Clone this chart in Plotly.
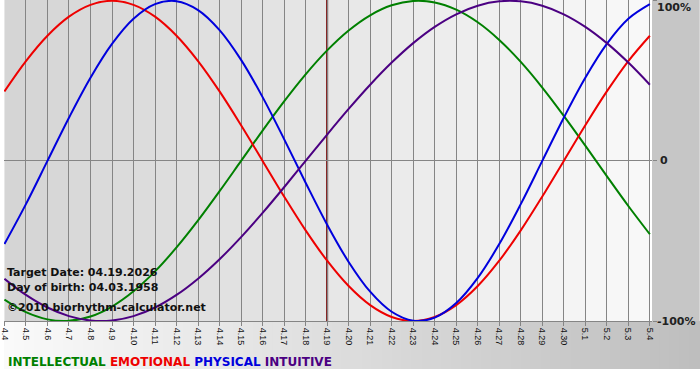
import plotly.graph_objects as go

DATES = ["4.4", "4.5", "4.6", "4.7", "4.8", "4.9", "4.10", "4.11", "4.12", "4.13",
         "4.14", "4.15", "4.16", "4.17", "4.18", "4.19", "4.20", "4.21", "4.22", "4.23",
         "4.24", "4.25", "4.26", "4.27", "4.28", "4.29", "4.30", "5.1", "5.2", "5.3", "5.4"]

PHYSICAL = [-51.96, -26.98, 0.0, 26.98, 51.96, 73.08, 88.79, 97.91, 99.77, 94.23,
            81.70, 63.10, 39.84, 13.62, -13.62, -39.84, -63.10, -81.70, -94.23, -99.77,
            -97.91, -88.79, -73.08, -51.96, -26.98, 0.0, 26.98, 51.96, 73.08, 88.79, 97.91]

EMOTIONAL = [43.39, 62.35, 78.18, 90.10, 97.49, 100.0, 97.49, 90.10, 78.18, 62.35,
             43.39, 22.25, 0.0, -22.25, -43.39, -62.35, -78.18, -90.10, -97.49, -100.0,
             -97.49, -90.10, -78.18, -62.35, -43.39, -22.25, 0.0, 22.25, 43.39, 62.35, 78.18]

INTELLECTUAL = [-86.60, -94.50, -98.98, -99.89, -97.18, -90.96, -81.46, -69.01, -54.06, -37.17,
                -18.93, 0.0, 18.93, 37.17, 54.06, 69.01, 81.46, 90.96, 97.18, 99.89,
                98.98, 94.50, 86.60, 75.57, 61.82, 45.82, 28.17, 9.51, -9.51, -28.17, -45.82]

INTUITIVE = [-73.57, -83.72, -91.58, -96.94, -99.66, -99.66, -96.94, -91.58, -83.72, -73.57,
             -61.42, -47.59, -32.47, -16.46, 0.0, 16.46, 32.47, 47.59, 61.42, 73.57,
             83.72, 91.58, 96.94, 99.66, 99.66, 96.94, 91.58, 83.72, 73.57, 61.42, 47.59]

TARGET = "4.19"
TARGET_TEXT = "Target Date: 04.19.2026"
BIRTH_TEXT = "Day of birth: 04.03.1958"
COPY_TEXT = "\u00a92010 biorhythm-calculator.net"
Y_LABELS = ["100%", "0", "-100%"]
Y_VALUES = [100, 0, -100]

SERIES = [
    ("INTELLECTUAL", INTELLECTUAL, "#008000"),
    ("EMOTIONAL", EMOTIONAL, "#ee0000"),
    ("PHYSICAL", PHYSICAL, "#0000dd"),
    ("INTUITIVE", INTUITIVE, "#4b0082"),
]

W, H = 700, 380
ML, MR, MT, MB = 0, 48, 0, 59
PW = W - ML - MR
PH = H - MT - MB

x = list(range(len(DATES)))
fig = go.Figure()

for name, vals, col in SERIES:
    fig.add_trace(go.Scatter(x=x, y=vals, mode="lines", name=name,
                             line=dict(color=col, width=2, shape="spline", smoothing=1.0),
                             hoverinfo="skip", showlegend=False))

shapes = []
# column background gradient (one band per day)
n = len(DATES) - 1
for i in range(n):
    v = int(round(213 + (248 - 213) * i / (n - 1)))
    shapes.append(dict(type="rect", xref="x", yref="paper", x0=i, x1=i + 1, y0=0, y1=1,
                       fillcolor=f"rgb({v},{v},{v})", line=dict(width=0), layer="below"))
# right margin grey
xr = W / PW
shapes.append(dict(type="rect", xref="paper", yref="paper", x0=1, x1=xr, y0=0, y1=1,
                   fillcolor="#c6c6c6", line=dict(width=0), layer="below"))
# bottom gradient band
band_h = 48 / PH
steps = 70
for i in range(steps):
    v = int(round(250 - (250 - 190) * i / (steps - 1)))
    shapes.append(dict(type="rect", xref="paper", yref="paper",
                       x0=xr * i / steps, x1=xr * (i + 1) / steps + 0.002,
                       y0=-band_h, y1=0,
                       fillcolor=f"rgb({v},{v},{v})", line=dict(width=0), layer="below"))
# target date line
ti = DATES.index(TARGET)
shapes.append(dict(type="line", xref="x", yref="paper", x0=ti, x1=ti, y0=0, y1=1,
                   line=dict(color="#780808", width=2), layer="between"))

annotations = []
for lab, val in zip(Y_LABELS, Y_VALUES):
    yy = min(val, 96)
    annotations.append(dict(text=f"<b>{lab}</b>", x=1.0, xref="paper", xshift=3 if lab != "0" else 6,
                            y=yy, yref="y", xanchor="left", yanchor="middle", showarrow=False,
                            font=dict(family="DejaVu Sans", size=11, color="#222222")))

for txt, py in [(TARGET_TEXT, 272), (BIRTH_TEXT, 287), (COPY_TEXT, 307)]:
    annotations.append(dict(text=f"<b>{txt}</b>", x=0.0, xref="paper", xshift=1, y=(PH - py) / PH, yref="paper",
                            xanchor="left", yanchor="middle", showarrow=False,
                            font=dict(family="DejaVu Sans", size=11, color="#111111")))

leg = " ".join(f'<span style="color:{c}">{n}</span>' for n, _, c in SERIES)
annotations.append(dict(text=f"<b>{leg}</b>", x=0.0, xref="paper", xshift=2, y=(PH - 362) / PH, yref="paper",
                        xanchor="left", yanchor="middle", showarrow=False,
                        font=dict(family="DejaVu Sans", size=12)))

fig.update_layout(
    width=W, height=H,
    margin=dict(l=ML, r=MR, t=MT, b=MB, pad=0),
    paper_bgcolor="white", plot_bgcolor="rgba(0,0,0,0)",
    shapes=shapes, annotations=annotations,
    xaxis=dict(range=[-0.02, 30.1], tickvals=x, ticktext=DATES, tickangle=90,
               showgrid=True, gridcolor="#858585", gridwidth=1,
               ticks="outside", ticklen=4, tickcolor="#858585",
               showline=True, linecolor="#858585", linewidth=1,
               ticklabeloverflow="allow",
               tickfont=dict(family="Liberation Sans", size=9, color="#111111"),
               zeroline=False, fixedrange=True),
    yaxis=dict(range=[-100, 100.5], side="right", tickvals=Y_VALUES, showticklabels=False,
               ticks="outside", ticklen=4, tickcolor="#858585",
               showgrid=False, zeroline=True, zerolinecolor="#858585", zerolinewidth=1,
               showline=False, fixedrange=True),
)

fig.write_html("out.html", config={"displayModeBar": False, "staticPlot": True},
               post_script="document.body.style.margin='0';")
